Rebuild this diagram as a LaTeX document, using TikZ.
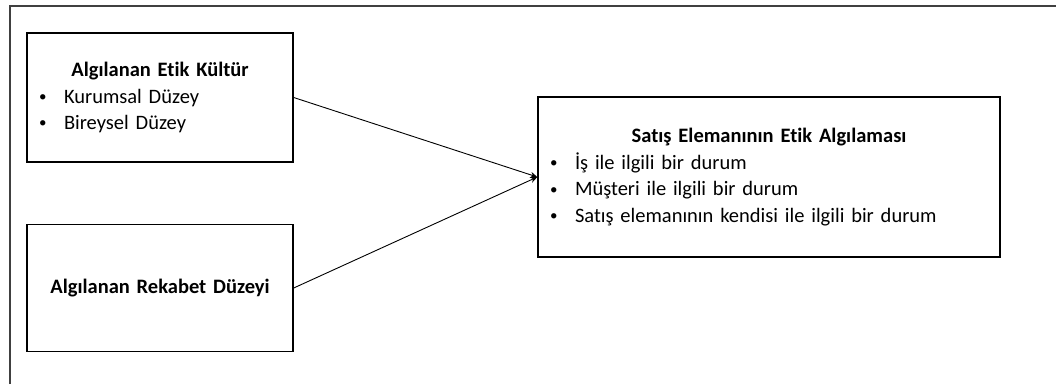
\documentclass[tikz,border=0pt]{standalone}
\usepackage{fontspec}
\setmainfont{Carlito}[Ligatures=NoCommon]
\usetikzlibrary{positioning}
\usetikzlibrary{arrows.meta}
\tikzstyle{kutu}=[draw,line width=1.4pt,inner xsep=12pt,inner ysep=0pt,font=\fontsize{20.5}{26.5}\selectfont]
\tikzstyle{ok}=[-{Stealth[length=7pt,width=6pt]},line width=0.9pt]
\newcommand{\madde}[1]{\makebox[25pt][l]{\raisebox{1.6pt}{\fontsize{15}{15}\selectfont\textbullet}}#1\par}

\begin{document}
\begin{tikzpicture}[x=1pt,y=1pt]
\useasboundingbox (0,0) rectangle (1056,-384);
\draw[line width=1.2pt, black!75] (10,-384) -- (10,-6) -- (1056,-6);

    \node[kutu, text width=242pt, minimum height=129pt] (kultur) at (160,-97.5)
        {{\centering\bfseries Algılanan Etik Kültür\par}\raggedright
         \madde{Kurumsal Düzey}\madde{Bireysel Düzey}};
    \node[kutu, text width=242pt, minimum height=127pt, align=center] (rekabet) at (160,-288)
        {\bfseries Algılanan Rekabet Düzeyi};
    \node[kutu, text width=438pt, minimum height=160pt] (algi) at (769,-177)
        {{\centering\bfseries Satış Elemanının Etik Algılaması\par}\raggedright
         \madde{İş ile ilgili bir durum}\madde{Müşteri ile ilgili bir durum}%
         \madde{Satış elemanının kendisi ile ilgili bir durum}};

    \foreach \kaynak in {kultur, rekabet}
        \draw[ok] (\kaynak.east) -- (algi.west);

\end{tikzpicture}
\end{document}
